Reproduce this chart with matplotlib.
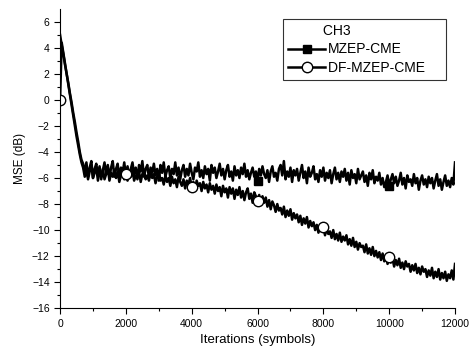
import numpy as np
import matplotlib
matplotlib.use("Agg")
import matplotlib.pyplot as plt

# iterations (symbols), one sample every 50
iters = np.arange(0, 12001, 50)

mzep = [5.0, 4.2, 3.5, 2.7, 2.0, 1.3, 0.5, -0.2, -1.0, -1.7, -2.5, -3.2, -4.0, -4.6,
        -4.9, -5.6, -4.8, -5.9, -5.2, -4.7, -6.0, -5.3, -4.9, -5.8,
        -5.1, -6.1, -5.4, -4.8, -5.7, -5.0, -6.0, -5.2, -4.7, -5.9,
        -5.3, -4.9, -6.1, -5.2, -5.6, -4.8, -5.8, -5.1, -6.0, -5.3,
        -4.8, -5.7, -5.2, -6.1, -5.0, -5.5, -4.7, -5.9, -5.3, -5.0,
        -6.0, -5.2, -5.6, -4.9, -5.8, -5.3, -6.2, -5.0, -5.6, -4.8,
        -5.9, -5.4, -5.1, -6.0, -5.3, -5.7, -4.8, -5.8, -5.2, -6.1,
        -5.4, -5.0, -5.9, -5.3, -5.8, -4.9, -5.6, -6.1, -5.2, -5.5,
        -4.8, -5.9, -5.4, -6.0, -5.1, -5.7, -5.3, -6.2, -5.0, -5.6,
        -5.2, -6.0, -5.5, -4.9, -5.8, -5.3, -6.1, -5.4, -5.0, -5.9,
        -5.5, -6.2, -5.1, -5.8, -5.4, -6.0, -5.2, -5.7, -4.9, -5.9,
        -5.4, -6.1, -5.6, -5.2, -5.9, -5.5, -6.2, -5.3, -5.8, -5.1,
        -5.7, -6.0, -5.4, -6.3, -5.5, -5.1, -5.9, -5.6, -6.2, -5.3,
        -5.0, -5.8, -4.7, -6.1, -5.5, -5.9, -5.2, -6.3, -5.4, -5.8,
        -5.3, -6.2, -5.6, -5.0, -6.0, -5.5, -6.4, -5.2, -5.9, -5.6,
        -5.1, -6.1, -5.7, -6.3, -5.4, -5.9, -5.2, -6.2, -5.6, -6.0,
        -5.4, -6.4, -5.7, -5.2, -6.1, -5.6, -6.3, -5.5, -5.9, -5.3,
        -6.2, -5.6, -6.5, -5.4, -6.0, -5.7, -6.4, -5.3, -6.1, -5.8,
        -5.5, -6.3, -5.8, -6.6, -5.6, -6.1, -5.4, -6.4, -5.9, -6.2,
        -5.6, -6.5, -6.0, -6.7, -6.3, -5.8, -6.6, -6.1, -5.7, -6.4,
        -5.9, -6.6, -6.2, -5.6, -6.5, -6.0, -6.8, -5.8, -6.3, -6.1,
        -6.6, -5.7, -6.4, -6.0, -6.9, -6.2, -5.8, -6.5, -6.1, -6.7,
        -5.9, -6.4, -6.0, -6.8, -6.2, -5.7, -6.6, -6.1, -6.9, -6.3,
        -5.8, -6.6, -6.2, -6.7, -6.0, -6.5,
        -4.8]

dfmzep = [0.0, 4.4, 3.6, 2.8, 2.0, 1.2, 0.4, -0.4, -1.2, -2.0, -2.8, -3.5, -4.2, -4.8,
          -5.2, -5.9, -5.4, -6.1, -5.5, -5.0, -6.0, -5.6, -5.2, -6.2,
          -5.5, -5.9, -5.3, -6.1, -5.7, -5.2, -6.2, -5.6, -5.9, -5.4,
          -6.0, -5.5, -6.3, -5.8, -5.3, -6.1, -5.7, -6.2, -5.6, -5.9,
          -5.4, -6.2, -5.8, -6.0, -5.5, -6.3, -5.7, -5.4, -6.1, -5.8,
          -6.2, -5.6, -6.0, -5.7, -6.4, -5.9, -5.5, -6.2, -6.0, -6.5,
          -5.8, -6.3, -6.0, -6.6, -5.9, -6.4, -6.1, -6.7, -5.9, -6.3,
          -6.6, -6.1, -6.8, -6.2, -6.5, -6.0, -6.7, -6.3, -6.9, -6.2,
          -6.6, -6.4, -7.0, -6.3, -6.8, -6.5, -7.1, -6.4, -6.9, -6.6,
          -7.2, -6.5, -7.0, -6.7, -7.4, -6.6, -7.1, -6.8, -7.5, -6.7,
          -7.2, -6.8, -7.6, -6.9, -7.3, -6.7, -7.5, -7.0, -7.7, -7.1,
          -6.8, -7.6, -7.2, -7.9, -7.1, -7.4, -7.8, -7.3, -8.0, -7.4,
          -7.9, -7.5, -8.2, -7.7, -8.4, -7.8, -8.1, -8.6, -8.0, -8.5,
          -8.3, -8.8, -8.2, -9.0, -8.5, -8.9, -8.4, -9.2, -8.7, -9.1,
          -8.8, -9.4, -8.9, -9.6, -9.1, -9.5, -9.0, -9.8, -9.3, -9.7,
          -9.4, -10.0, -9.6, -10.2, -9.7, -10.0, -9.8, -10.4, -9.9, -10.3,
          -10.1, -10.6, -10.0, -10.7, -10.3, -10.8, -10.2, -10.9, -10.5, -10.8,
          -10.4, -11.1, -10.7, -11.2, -10.6, -11.3, -10.9, -11.5, -11.0, -11.3,
          -11.2, -11.7, -11.1, -11.8, -11.4, -11.9, -11.3, -12.0, -11.6, -12.1,
          -11.7, -12.3, -11.8, -12.4, -12.0, -12.6, -12.1, -12.5, -12.2, -12.8,
          -12.3, -12.7, -12.2, -12.9, -12.5, -13.0, -12.4, -12.8, -12.6, -13.2,
          -12.7, -13.1, -12.6, -13.3, -12.9, -13.4, -12.8, -13.2, -13.0, -13.6,
          -13.1, -13.5, -12.9, -13.7, -13.2, -13.6, -13.0, -13.8, -13.3, -13.7,
          -13.2, -13.9, -13.4, -13.7, -13.1, -13.8,
          -12.6]

plt.rcParams['font.family'] = ['Liberation Sans', 'DejaVu Sans']

fig = plt.figure(figsize=(4.73, 3.53), dpi=100)
ax = fig.add_axes([0.127, 0.127, 0.835, 0.848])

# square marks only show at 6000 and 10000, circles every 2000
ax.plot(iters, mzep, color='black', lw=1.8, marker='s', markersize=6,
        markevery=[120, 200], markerfacecolor='black', label='MZEP-CME')
ax.plot(iters, dfmzep, color='black', lw=1.8, marker='o', markersize=7.5,
        markevery=list(range(0, 201, 40)), markerfacecolor='white',
        markeredgewidth=1.0, label='DF-MZEP-CME    ')

ax.set_xlim(0, 12000)
ax.set_ylim(-16, 7)
ax.set_xticks(range(0, 12001, 2000))
ax.set_xticks(range(0, 12001, 1000), minor=True)
ax.set_yticks(range(-16, 7, 2))
ax.set_yticks(range(-16, 7, 1), minor=True)
ax.tick_params(which='major', length=4, width=0.8, labelsize=7.5)
ax.tick_params(which='minor', length=2.5, width=0.8)
for s in ['top', 'right']:
    ax.spines[s].set_visible(False)

ax.set_xlabel('Iterations (symbols)', fontsize=9.5, labelpad=4)
ax.set_ylabel('MSE (dB)', fontsize=8.5, labelpad=4)

leg = ax.legend(loc='upper right', title='         CH3', fontsize=10, title_fontsize=10,
                frameon=True, fancybox=False, edgecolor='black',
                handlelength=2.6, handletextpad=0.25, borderpad=0.4,
                labelspacing=0.3, bbox_to_anchor=(0.995, 0.99))
leg.get_frame().set_linewidth(0.8)
leg._legend_box.align = 'left'

fig.savefig('out.png', dpi=100)
